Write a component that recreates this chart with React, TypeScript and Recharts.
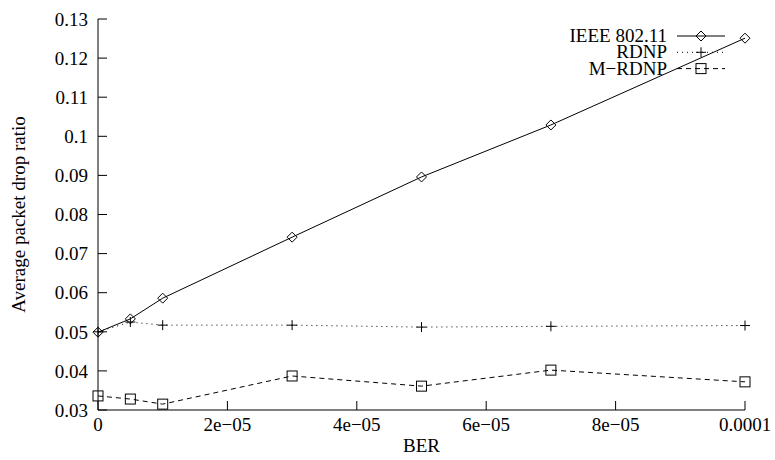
import { Legend, Line, LineChart, XAxis, YAxis } from "recharts";

const ber = [0, 0.000005, 0.00001, 0.00003, 0.00005, 0.00007, 0.0001];
const ieee = [0.0499, 0.0533, 0.0586, 0.0742, 0.0896, 0.1029, 0.1251];
const rdnp = [0.05, 0.0525, 0.0517, 0.0517, 0.0512, 0.0514, 0.0516];
const mrdnp = [0.0336, 0.0328, 0.0315, 0.0387, 0.0361, 0.0402, 0.0372];

const xTicks = [0, 0.00002, 0.00004, 0.00006, 0.00008, 0.0001];
const xTickLabels = ["0", "2e\u221205", "4e\u221205", "6e\u221205", "8e\u221205", "0.0001"];
const yTicks = [0.03, 0.04, 0.05, 0.06, 0.07, 0.08, 0.09, 0.1, 0.11, 0.12, 0.13];
const yTickLabels = ["0.03", "0.04", "0.05", "0.06", "0.07", "0.08", "0.09", "0.1", "0.11", "0.12", "0.13"];

const seriesNames = ["IEEE 802.11", "RDNP", "M\u2212RDNP"];

const data = ber.map((x, i) => ({ ber: x, ieee: ieee[i], rdnp: rdnp[i], mrdnp: mrdnp[i] }));

const font = "Liberation Serif";
const ink = "#000";

function Diamond({ cx, cy }: { cx: number; cy: number }) {
  return <path d={`M${cx - 5},${cy} L${cx},${cy - 5} L${cx + 5},${cy} L${cx},${cy + 5} Z`} fill="none" stroke={ink} strokeWidth={1} />;
}
function Plus({ cx, cy }: { cx: number; cy: number }) {
  return <path d={`M${cx - 5},${cy} H${cx + 5} M${cx},${cy - 5} V${cy + 5}`} fill="none" stroke={ink} strokeWidth={1} />;
}
function Square({ cx, cy }: { cx: number; cy: number }) {
  return <rect x={cx - 5} y={cy - 5} width={10} height={10} fill="none" stroke={ink} strokeWidth={1} />;
}

const markers = [Diamond, Plus, Square];
const dashes = [undefined, "1 4", "5 4"];

function KeyBox() {
  return (
    <svg width={270} height={56} style={{ display: "block" }}>
      {seriesNames.map((name, i) => {
        const cy = 10 + i * 16.3;
        const Marker = markers[i];
        return (
          <g key={name}>
            <text x={197} y={cy + 6} textAnchor="end" style={{ fontFamily: font, fontSize: 19 }} fill={ink}>{name}</text>
            <line x1={207} x2={255} y1={cy} y2={cy} stroke={ink} strokeWidth={1} strokeDasharray={dashes[i]} />
            <Marker cx={231} cy={cy} />
          </g>
        );
      })}
    </svg>
  );
}

const tickStyle = { fontFamily: font, fontSize: 19, fill: ink };

export default function App() {
  return (
    <div style={{ position: "absolute", left: 0, top: 0, width: 775, height: 460, background: "#fff", fontFamily: font }}>
      <LineChart width={775} height={460} data={data} margin={{ top: 19, right: 30, bottom: 20, left: 38 }} style={{ fontFamily: font }}>
        <XAxis
          dataKey="ber"
          type="number"
          domain={[0, 0.0001]}
          ticks={xTicks}
          tickFormatter={(_v: number, i: number) => xTickLabels[i]}
          tickSize={-9}
          tickMargin={17}
          height={30}
          stroke={ink}
          tick={tickStyle}
          label={{ value: "BER", position: "insideBottom", offset: -12, fontFamily: font, fontSize: 19, fill: ink }}
        />
        <XAxis xAxisId="top" orientation="top" dataKey="ber" type="number" domain={[0, 0.0001]} ticks={xTicks} tick={false} tickSize={-9} height={0} stroke={ink} />
        <YAxis
          type="number"
          domain={[0.03, 0.13]}
          ticks={yTicks}
          tickFormatter={(_v: number, i: number) => yTickLabels[i]}
          tickSize={-9}
          tickMargin={19}
          width={60}
          stroke={ink}
          tick={tickStyle}
          label={{ value: "Average packet drop ratio", angle: -90, position: "insideLeft", offset: -20, textAnchor: "middle", fontFamily: font, fontSize: 19, fill: ink }}
        />
        <YAxis yAxisId="right" orientation="right" type="number" domain={[0.03, 0.13]} ticks={yTicks} tick={false} tickSize={-9} width={0} stroke={ink} />
        <Legend layout="vertical" align="center" verticalAlign="middle" content={() => <KeyBox />} wrapperStyle={{ left: 470, top: 26, width: 270, height: 56 }} />
        <Line dataKey="ieee" stroke={ink} strokeWidth={1} dot={(p: any) => <Diamond key={p.index} cx={p.cx} cy={p.cy} />} isAnimationActive={false} />
        <Line dataKey="rdnp" stroke={ink} strokeWidth={1} strokeDasharray="1 4" dot={(p: any) => <Plus key={p.index} cx={p.cx} cy={p.cy} />} isAnimationActive={false} />
        <Line dataKey="mrdnp" stroke={ink} strokeWidth={1} strokeDasharray="5 4" dot={(p: any) => <Square key={p.index} cx={p.cx} cy={p.cy} />} isAnimationActive={false} />
      </LineChart>
    </div>
  );
}
